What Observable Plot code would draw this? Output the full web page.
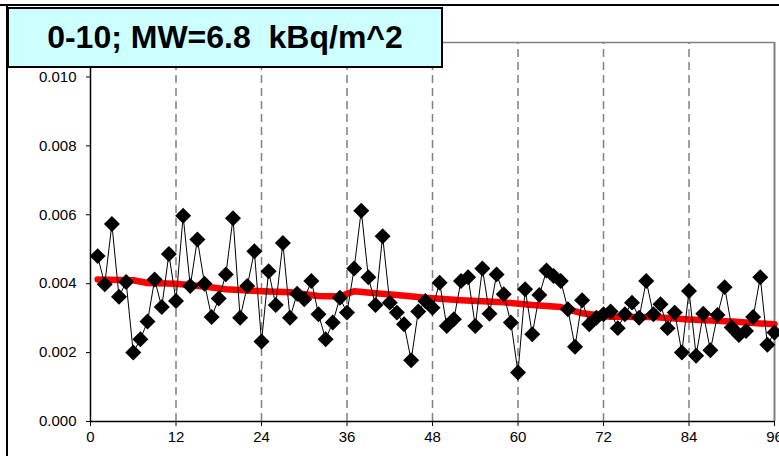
<!DOCTYPE html>
<html>
<head>
<meta charset="utf-8">
<script src="https://cdn.jsdelivr.net/npm/d3@7"></script>
<script src="https://cdn.jsdelivr.net/npm/@observablehq/plot@0.6"></script>
<style>
  html, body { margin: 0; padding: 0; background: #fff; }
  #wrap { position: relative; width: 779px; height: 456px; overflow: hidden; background: #fff; }
  #wrap svg { position: absolute; left: 0; top: 0; }
  #borderTop { position: absolute; left: 0; top: 4px; width: 779px; height: 2px; background: #000; }
  #borderLeft { position: absolute; left: 6px; top: 4px; width: 2px; height: 460px; background: #000; }
  #title {
    position: absolute; left: 7px; top: 7px; width: 436px; height: 61px;
    box-sizing: border-box; border: 2.5px solid #000; background: #ccffff;
    font-family: "Liberation Sans", Arial, sans-serif; font-weight: bold; font-size: 32px;
    white-space: pre; text-align: center; line-height: 56px; color: #000;
  }
</style>
</head>
<body>
<div id="wrap"></div>
<script>
// Measured values, months 1..96
const values = [
  0.00480, 0.00398, 0.00573, 0.00362, 0.00405, 0.00200, 0.00239, 0.00290, 0.00412, 0.00332,
  0.00486, 0.00350, 0.00597, 0.00393, 0.00528, 0.00400, 0.00303, 0.00357, 0.00427, 0.00590,
  0.00301, 0.00393, 0.00494, 0.00232, 0.00436, 0.00338, 0.00518, 0.00301, 0.00371, 0.00355,
  0.00408, 0.00311, 0.00239, 0.00287, 0.00359, 0.00316, 0.00444, 0.00612, 0.00419, 0.00338,
  0.00538, 0.00345, 0.00316, 0.00282, 0.00178, 0.00319, 0.00350, 0.00330, 0.00403, 0.00277,
  0.00297, 0.00408, 0.00419, 0.00277, 0.00444, 0.00313, 0.00427, 0.00369, 0.00287, 0.00142,
  0.00384, 0.00253, 0.00367, 0.00438, 0.00422, 0.00408, 0.00326, 0.00217, 0.00352, 0.00282,
  0.00301, 0.00311, 0.00319, 0.00271, 0.00311, 0.00345, 0.00301, 0.00408, 0.00311, 0.00340,
  0.00271, 0.00316, 0.00200, 0.00379, 0.00191, 0.00313, 0.00207, 0.00309, 0.00390, 0.00273,
  0.00251, 0.00263, 0.00303, 0.00419, 0.00223, 0.00258
];
// Red trend line, read at these months
const trendX = [1, 6, 8, 12, 16, 19, 24, 28, 32, 35, 37, 40, 43, 47, 52, 58, 62, 66, 69, 73, 79, 84, 90, 96];
const trendY = [0.00412, 0.00410, 0.00402, 0.00400, 0.00392, 0.00384, 0.00378, 0.00375, 0.00364, 0.00363,
                0.00378, 0.00372, 0.00367, 0.00359, 0.00352, 0.00346, 0.00338, 0.00332, 0.00314, 0.00304,
                0.00303, 0.00296, 0.00290, 0.00282];
const xTicks = [0, 12, 24, 36, 48, 60, 72, 84, 96];
const yTicks = [0, 0.002, 0.004, 0.006, 0.008, 0.010];
const gridX = [12, 24, 36, 48, 60, 72, 84];
const titleText = "0-10; MW=6.8  kBq/m^2";

const points = values.map((v, i) => ({x: i + 1, y: v}));
const trend = trendX.map((x, i) => ({x, y: trendY[i]}));

const chart = Plot.plot({
  width: 779,
  height: 456,
  marginLeft: 90,
  marginRight: 5,
  marginTop: 42,
  marginBottom: 35,
  style: {fontFamily: "'Liberation Sans', Arial, sans-serif", fontSize: "15px", color: "#000", background: "transparent"},
  x: {domain: [0, 96]},
  y: {domain: [0, 0.011]},
  marks: [
    Plot.ruleX(gridX, {y1: 0, y2: 0.011, stroke: "#808080", strokeWidth: 1.5, strokeDasharray: "8,5"}),
    Plot.ruleY([0.011], {stroke: "#808080", strokeWidth: 1.5}),
    Plot.ruleX([96], {stroke: "#808080", strokeWidth: 2}),
    Plot.line(trend, {x: "x", y: "y", stroke: "#ff0000", strokeWidth: 6.5, strokeLinejoin: "round"}),
    Plot.line(points, {x: "x", y: "y", stroke: "#000", strokeWidth: 1}),
    Plot.dot(points, {x: "x", y: "y", symbol: "diamond2", r: 7.2, fill: "#000", stroke: "none"}),
    Plot.ruleY([0], {stroke: "#000", strokeWidth: 1.5}),
    Plot.ruleX([0], {stroke: "#000", strokeWidth: 1.5}),
    Plot.axisY({ticks: yTicks, tickFormat: d3.format(".3f"), tickSize: 4, tickPadding: 10, label: null}),
    Plot.axisX({ticks: xTicks, tickFormat: d3.format("d"), tickSize: 5, tickPadding: 5, label: null})
  ]
});

const wrap = document.getElementById("wrap");
wrap.appendChild(chart);
for (const id of ["borderTop", "borderLeft"]) {
  const d = document.createElement("div");
  d.id = id;
  wrap.appendChild(d);
}
const t = document.createElement("div");
t.id = "title";
t.textContent = titleText;
wrap.appendChild(t);
</script>
</body>
</html>
